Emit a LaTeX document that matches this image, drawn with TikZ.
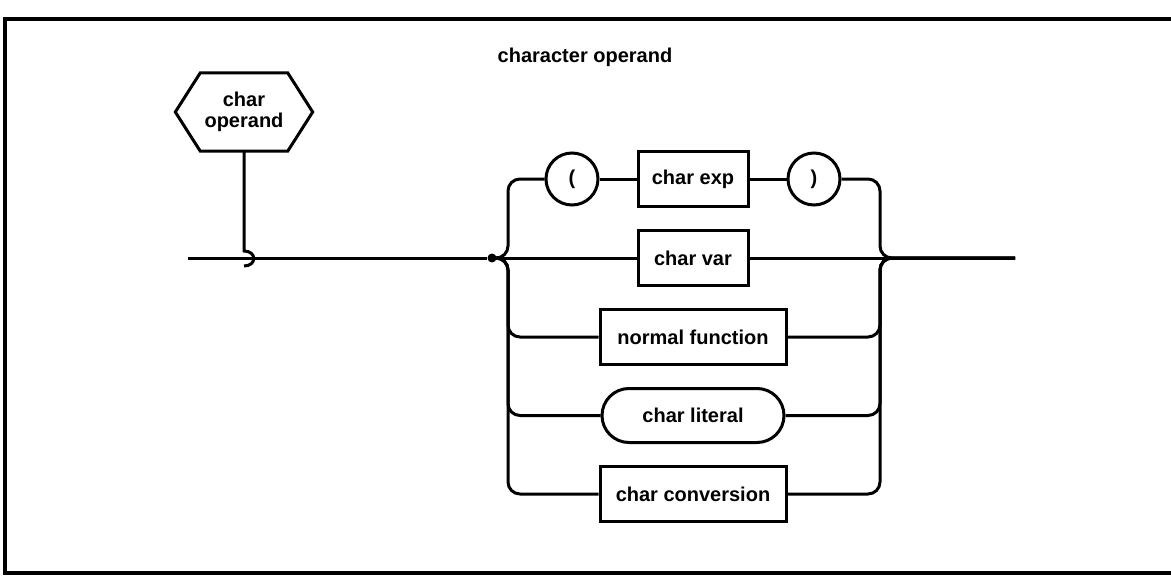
\documentclass[tikz,border=0pt]{standalone}
\usepackage{fontspec}
\setmainfont{Liberation Sans}
\usetikzlibrary{positioning}
\usetikzlibrary{shapes.misc}
\tikzset{
    box/.style={
           rectangle,
           draw=black, line width=3pt,
           minimum height=55pt,
           inner sep=2pt,
           text centered,
           font=\bfseries\fontsize{20}{21}\selectfont,
           },
    pill/.style={
           rounded rectangle,
           draw=black, line width=3pt,
           minimum height=54pt,
           minimum width=186pt,
           inner sep=2pt,
           text centered,
           font=\bfseries\fontsize{20}{21}\selectfont,
           },
    paren/.style={
           circle,
           draw=black, line width=3pt,
           minimum size=52pt,
           inner sep=0pt,
           font=\bfseries\fontsize{20}{21}\selectfont,
           },
    hexa/.style={
           %hexagon drawn by hand round the node
           minimum width=137pt,
           minimum height=78pt,
           inner sep=2pt,
           align=center,
           font=\bfseries\fontsize{20}{21}\selectfont,
           },
    frameless/.style={
           inner sep=2pt,
           font=\bfseries\fontsize{20}{21}\selectfont,
           },
    dot/.style={circle, fill=black, inner sep=0pt, minimum size=9pt},
    line/.style={line width=3pt},
}

\begin{document}
\begin{tikzpicture}[x=1pt, y=-1pt, node distance=21pt and 37pt]
	\useasboundingbox (0,0) rectangle (1171,586);
	\draw[line width=4pt] (1171,19) -- (5,19) -- (5,573) -- (1171,573);

	\node[frameless] (head) at (585,57) {character operand};

	\node[hexa] (charop) at (244,112) {char\\operand};
	\draw[line] (charop.west) -- ([xshift=25pt]charop.north west)
		-- ([xshift=-25pt]charop.north east) -- (charop.east)
		-- ([xshift=-25pt]charop.south east) -- ([xshift=25pt]charop.south west)
		-- cycle;

	\node[box, minimum width=110pt] (charvar) at (693,258) {char var};
	\node[box, minimum width=110pt, above=of charvar] (charexp) {char exp};
	\node[box, minimum width=186pt, below=of charvar] (normfun) {normal function};
	\node[pill, below=of normfun] (charlit) {char literal};
	\node[box, minimum width=186pt, below=of charlit] (charconv) {char conversion};

	\node[paren, left=of charexp] (lpar) {(};
	\node[paren, right=of charexp] (rpar) {)};

	\node[dot] (split) at (492,258) {};
	\coordinate (entry) at (188,258);
	\coordinate (exit) at (1015,258);
	\coordinate (lbar) at (508,258);
	\coordinate (rbar) at (880,258);
	\coordinate (hooktop) at (244,251);
	\coordinate (hookbot) at (244,266);

	\draw[line] (charop.south) -- (hooktop) .. controls +(13,0) and +(13,0) .. (hookbot);
	\draw[line] (entry) -- (split);
	\path[line] (split) edge (charvar)
				(charvar) edge (exit)
				(lpar) edge (charexp)
				(charexp) edge (rpar);

	\draw[line, rounded corners=12pt] (split) -- (lbar) |- (lpar);
	\draw[line, rounded corners=12pt] (split) -- (lbar) |- (normfun);
	\draw[line, rounded corners=12pt] (split) -- (lbar) |- (charlit);
	\draw[line, rounded corners=12pt] (split) -- (lbar) |- (charconv);

	\draw[line, rounded corners=12pt] (rpar) -| (rbar) -- (exit);
	\draw[line, rounded corners=12pt] (normfun) -| (rbar) -- (exit);
	\draw[line, rounded corners=12pt] (charlit) -| (rbar) -- (exit);
	\draw[line, rounded corners=12pt] (charconv) -| (rbar) -- (exit);
\end{tikzpicture}
\end{document}
